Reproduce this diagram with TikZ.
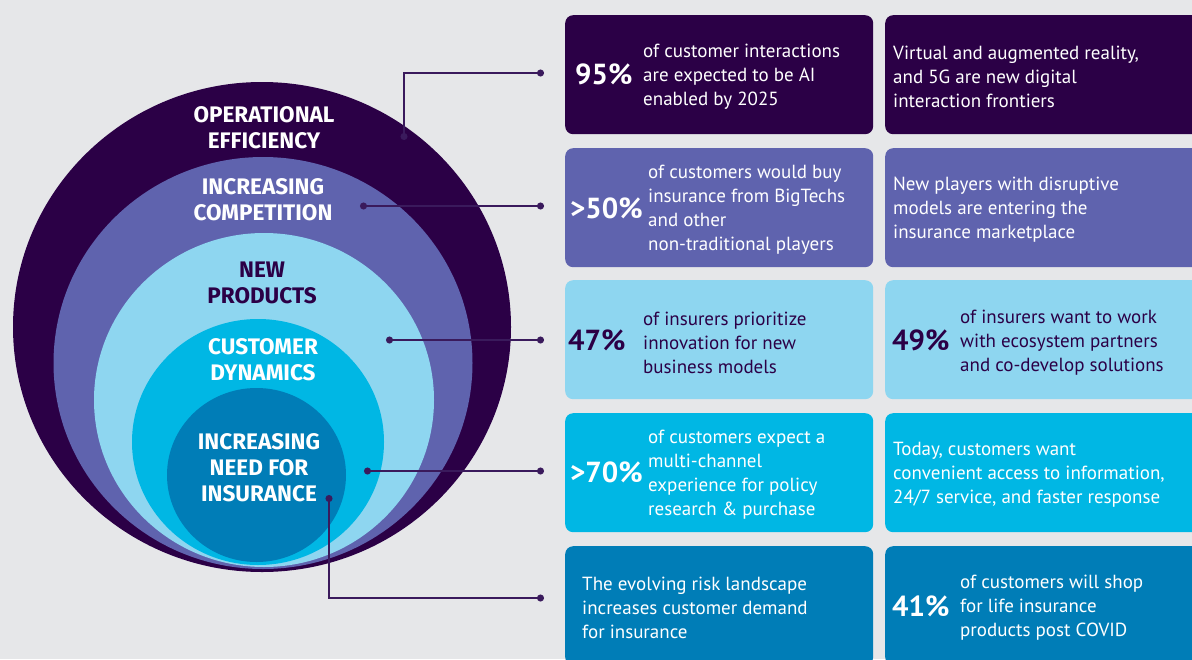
\documentclass[tikz,border=0pt]{standalone}
\usepackage{fontspec}
\setmainfont{PT Sans}
\newfontfamily\ringfont{Fira Sans}
\usetikzlibrary{arrows.meta}
\definecolor{cPlum}{HTML}{2B0046}
\definecolor{cViolet}{HTML}{5F63AE}
\definecolor{cSky}{HTML}{8ED6F0}
\definecolor{cCyan}{HTML}{00B7E4}
\definecolor{cBlue}{HTML}{007DB7}
\definecolor{cBack}{HTML}{E6E7E9}
\definecolor{cLink}{HTML}{3A1A5C}
\tikzset{
  ring label/.style={
    font=\ringfont\bfseries\fontsize{22.5}{26}\selectfont,
    align=center,
    text=white,
    inner sep=0pt,
  },
  stat box/.style={
    rounded corners=8pt,
    anchor=north west,
    minimum width=308pt,
    minimum height=119pt,
    inner sep=0pt,
  },
  stat num/.style={
    font=\bfseries\fontsize{29}{30}\selectfont,
    anchor=west,
    inner sep=0pt,
    text=white,
  },
  stat text/.style={
    font=\fontsize{19}{24}\selectfont,
    align=left,
    anchor=west,
    inner sep=0pt,
    text=white,
  },
  link/.style={
    draw=cLink,
    line width=1.4pt,
    {Circle[length=7pt]}-{Circle[length=7pt]},
  },
}

\begin{document}
\begin{tikzpicture}[x=1pt, y=-1pt]
      \useasboundingbox (0,0) rectangle (1192,659);
      \clip (0,0) rectangle (1192,659);
      \fill[cBack] (0,0) rectangle (1192,659);

      % nested rings
      \fill[cPlum] (262,327) ellipse [x radius=249pt, y radius=245pt];
      \fill[cViolet] (263,363) ellipse [x radius=209.5pt, y radius=206pt];
      \fill[cSky] (264,400) ellipse [x radius=170pt, y radius=167pt];
      \fill[cCyan] (258,442) ellipse [x radius=126pt, y radius=123pt];
      \fill[cBlue] (256.5,475) ellipse [x radius=89.5pt, y radius=87pt];

      \node[ring label] (opeff) at (264,128) {OPERATIONAL\\EFFICIENCY};
      \node[ring label] (compet) at (263,200) {INCREASING\\COMPETITION};
      \node[ring label, text=cPlum] (newprod) at (262,283) {NEW\\PRODUCTS};
      \node[ring label] (custdyn) at (263,360) {CUSTOMER\\DYNAMICS};
      \node[ring label] (needins) at (259,468) {INCREASING\\NEED FOR\\INSURANCE};

      % boxes
      \node[stat box, fill=cPlum] (opL) at (565,15) {};
      \node[stat box, fill=cPlum, minimum width=320pt] (opR) at (885,15) {};
      \node[stat box, fill=cViolet] (coL) at (565,148) {};
      \node[stat box, fill=cViolet, minimum width=320pt] (coR) at (885,148) {};
      \node[stat box, fill=cSky] (npL) at (565,280) {};
      \node[stat box, fill=cSky, minimum width=320pt] (npR) at (885,280) {};
      \node[stat box, fill=cCyan] (cdL) at (565,413) {};
      \node[stat box, fill=cCyan, minimum width=320pt] (cdR) at (885,413) {};
      \node[stat box, fill=cBlue] (niL) at (565,546) {};
      \node[stat box, fill=cBlue, minimum width=320pt] (niR) at (885,546) {};

      % box texts
      \node[stat num] (opNum) at (575,74) {95\%};
      \node[stat text] (opTxtL) at (643,77) {of customer interactions\\are expected to be AI\\enabled by 2025};
      \node[stat text] (opTxtR) at (893,77) {Virtual and augmented reality,\\and 5G are new digital\\interaction frontiers};

      \node[stat num] (coNum) at (570,208) {>50\%};
      \node[stat text] (coTxtL) at (648,210) {of customers would buy\\insurance from BigTechs\\and other\\non-traditional players};
      \node[stat text] (coTxtR) at (893,210) {New players with disruptive\\models are entering the\\insurance marketplace};

      \node[stat num, text=cPlum] (npNumL) at (568,340) {47\%};
      \node[stat text, text=cPlum] (npTxtL) at (643,343) {of insurers prioritize\\innovation for new\\business models};
      \node[stat num, text=cPlum] (npNumR) at (892,340) {49\%};
      \node[stat text, text=cPlum] (npTxtR) at (960,343) {of insurers want to work\\with ecosystem partners\\and co-develop solutions};

      \node[stat num] (cdNum) at (570,472) {>70\%};
      \node[stat text] (cdTxtL) at (648,475) {of customers expect a\\multi-channel\\experience for policy\\research \& purchase};
      \node[stat text] (cdTxtR) at (893,475) {Today, customers want\\convenient access to information,\\24/7 service, and faster response};

      \node[stat text] (niTxtL) at (582,608) {The evolving risk landscape\\increases customer demand\\for insurance};
      \node[stat num] (niNum) at (892,606) {41\%};
      \node[stat text] (niTxtR) at (960,608) {of customers will shop\\for life insurance\\products post COVID};

      % connectors
      \coordinate (opA) at (404,140);
      \coordinate (opB) at (544,73);
      \coordinate (coA) at (360,206);
      \coordinate (coB) at (544,206);
      \coordinate (npA) at (386,340);
      \coordinate (npB) at (544,340);
      \coordinate (cdA) at (364,471);
      \coordinate (cdB) at (544,471);
      \coordinate (niA) at (329,495);
      \coordinate (niB) at (544,598);

      \draw[link] (opA) |- (opB);
      \draw[link] (coA) -- (coB);
      \draw[link] (npA) -- (npB);
      \draw[link] (cdA) -- (cdB);
      \draw[link] (niA) |- (niB);
    \end{tikzpicture}
\end{document}
